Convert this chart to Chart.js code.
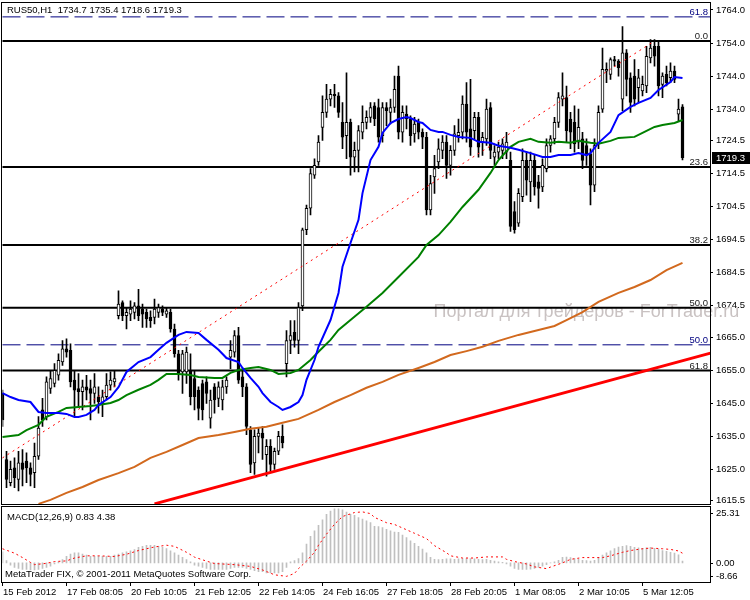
<!DOCTYPE html>
<html>
<head>
<meta charset="utf-8">
<script src="https://cdn.jsdelivr.net/npm/chart.js@4.4.0/dist/chart.umd.min.js"></script>
<style>
  html, body { margin: 0; padding: 0; background: #fff; }
  #wrap { position: relative; width: 750px; height: 600px; }
  #main { position: absolute; left: 0; top: 0; }
  #macd { position: absolute; left: 0; top: 506px; }
</style>
</head>
<body>
<div id="wrap">
  <canvas id="main" width="750" height="506"></canvas>
  <canvas id="macd" width="750" height="94"></canvas>
</div>
<script>
const symbol = 'RUS50,H1'
const watermark = 'Портал для трейдеров - ForTrader.ru'
const copyright = 'MetaTrader FIX, © 2001-2011 MetaQuotes Software Corp.'

// H1 candles, [open, high, low, close]
const candles = [
  [1648, 1649, 1638, 1640], [1628, 1630.5, 1619.5, 1622], [1621, 1627.5, 1620, 1625], [1625.5, 1628.5, 1619.5, 1622.5],
  [1622, 1630.5, 1618.5, 1627], [1627, 1631, 1620, 1625], [1627.5, 1630, 1621, 1625.5], [1625.5, 1627, 1620, 1623.5],
  [1624, 1633, 1619.5, 1629], [1629, 1641, 1628, 1637.5], [1643, 1646.5, 1638, 1640], [1641, 1653, 1640, 1651.5],
  [1649.5, 1655, 1648, 1652.5], [1651, 1657, 1650, 1655], [1653.5, 1660, 1652, 1658], [1657.5, 1664, 1656.5, 1661.5],
  [1661.5, 1664.5, 1659, 1660.5], [1661, 1663, 1650, 1651.5], [1652, 1655, 1641, 1649], [1649.5, 1654, 1644, 1648.5],
  [1648.5, 1652, 1643, 1650], [1650, 1653.5, 1646, 1649], [1649.5, 1652, 1640, 1648], [1648, 1654, 1645, 1650],
  [1647, 1650, 1642, 1645.5], [1645, 1649, 1641, 1647], [1647, 1654, 1646, 1650.5], [1650.5, 1654.5, 1649, 1652],
  [1651.5, 1655, 1650, 1652.5], [1671.5, 1679, 1670.5, 1675], [1675.5, 1676, 1670, 1671.5], [1671.5, 1674, 1667.5, 1672.5],
  [1672, 1676, 1670, 1673.5], [1672.5, 1675.5, 1670.5, 1674.5], [1674.5, 1679.5, 1670, 1671.5], [1673.5, 1675, 1668, 1672],
  [1672.5, 1673.5, 1668, 1670.5], [1671, 1673, 1668, 1670], [1671, 1676.5, 1669, 1673.5], [1672.5, 1675, 1671, 1674],
  [1673.5, 1674.5, 1671.5, 1672.5], [1672, 1674, 1671, 1673], [1672.5, 1673.5, 1666.5, 1667.5], [1667.5, 1669, 1659, 1660],
  [1660, 1661, 1652, 1654], [1654.5, 1661, 1648, 1660], [1654.5, 1662, 1651, 1660.5], [1655, 1660, 1644.5, 1647],
  [1652.5, 1655, 1643, 1647], [1649, 1650, 1640, 1643.5], [1651, 1652, 1640, 1643], [1651.5, 1653, 1645, 1648],
  [1640.5, 1649, 1637.5, 1646], [1650, 1651, 1642, 1646], [1646.5, 1651.5, 1644, 1650], [1646, 1652, 1643, 1650],
  [1650, 1653, 1648, 1652], [1659, 1664, 1655.5, 1661], [1660.5, 1667, 1659, 1665.5], [1665.5, 1668, 1651, 1652],
  [1653, 1655, 1647, 1650], [1650, 1651, 1635.5, 1638], [1637, 1638, 1624, 1626.5], [1627, 1637, 1623.5, 1635],
  [1635, 1637.5, 1630, 1636], [1636, 1638, 1628, 1634.5], [1629.5, 1634, 1623, 1632], [1632, 1634, 1624.5, 1626.5],
  [1626.5, 1631.5, 1625, 1630.5], [1630.5, 1636.5, 1629.5, 1635], [1635, 1638.5, 1631.5, 1633], [1657, 1667, 1653, 1664],
  [1664, 1670, 1660, 1665.5], [1666.5, 1670, 1662, 1664], [1664, 1675.5, 1660, 1674], [1674.5, 1698, 1673, 1697.5],
  [1697.5, 1705, 1696, 1704], [1704, 1716, 1702, 1714.5], [1714, 1719, 1713, 1717], [1718, 1726, 1717, 1724],
  [1728.5, 1738, 1724.5, 1733], [1733, 1741.5, 1731.5, 1737], [1737, 1740, 1735, 1738.5], [1738.5, 1741.5, 1734.5, 1738],
  [1738, 1739, 1731.5, 1733], [1730, 1736, 1722, 1725.5], [1726, 1745, 1719, 1730], [1730, 1731, 1714, 1719.5],
  [1719.5, 1724, 1715, 1721.5], [1721.5, 1729, 1715, 1727.5], [1727, 1735, 1725, 1730], [1730, 1733.5, 1728, 1731.5],
  [1731.5, 1736, 1730, 1734.5], [1735, 1736, 1729, 1731], [1734.5, 1737, 1724, 1725.5], [1726, 1736, 1724, 1734.5],
  [1734.5, 1736, 1729, 1733.5], [1733, 1737, 1729.5, 1734.5], [1734.5, 1744, 1733, 1740], [1744, 1747, 1725, 1727],
  [1727, 1735, 1724, 1733], [1732.5, 1735, 1728, 1731], [1731, 1732, 1723, 1726], [1726.5, 1731.5, 1724, 1729.5],
  [1730, 1731, 1725, 1727], [1727, 1728, 1722, 1725.5], [1725.5, 1727, 1702, 1703.5], [1703.5, 1714, 1702, 1711.5],
  [1713.5, 1720, 1708.5, 1716], [1718, 1725, 1716, 1722], [1721.5, 1726, 1719, 1724], [1724, 1726, 1713, 1717],
  [1717, 1723, 1714, 1721.5], [1721.5, 1729, 1720, 1726.5], [1726, 1731, 1724, 1727], [1727, 1738, 1725, 1735.5],
  [1735.5, 1742, 1724, 1727], [1728, 1743, 1720, 1722.5], [1727.5, 1733, 1725, 1731.5], [1731.5, 1733, 1719.5, 1722.5],
  [1724, 1727, 1720, 1725.5], [1725, 1737, 1723, 1734], [1734.5, 1736, 1719, 1721.5], [1719.5, 1723, 1717, 1721],
  [1721, 1724, 1719, 1722.5], [1721.5, 1725, 1719, 1723.5], [1721, 1727, 1719, 1724], [1718.5, 1721, 1697, 1698.5],
  [1703, 1706, 1696.5, 1697.5], [1699.5, 1710, 1698.5, 1708.5], [1707.5, 1722, 1706, 1718.5], [1718.5, 1721, 1708, 1712.5],
  [1712, 1721, 1706, 1718.5], [1718.5, 1720, 1708, 1710.5], [1712, 1714, 1704, 1710], [1710.5, 1719, 1709, 1717],
  [1716, 1725, 1715, 1723], [1723, 1726, 1721, 1725], [1725, 1731.5, 1723.5, 1730], [1730, 1739, 1728.5, 1737.5],
  [1737, 1745, 1735, 1738], [1737.5, 1741, 1724, 1727.5], [1731, 1733, 1722, 1727], [1730, 1735, 1721, 1723.5],
  [1724, 1734, 1722, 1728.5], [1725, 1727, 1716, 1718.5], [1723, 1725, 1717, 1720], [1720.5, 1722, 1705, 1711],
  [1711, 1725, 1709, 1723], [1723.5, 1735, 1722, 1733], [1734, 1752.5, 1733, 1746], [1745.5, 1748, 1742, 1746],
  [1744.5, 1749.5, 1743, 1749], [1749, 1750, 1747, 1748.5], [1748.5, 1749, 1744, 1746.5], [1737, 1759, 1733.5, 1751],
  [1751, 1752, 1738, 1743], [1743.5, 1745, 1733, 1736], [1744, 1749, 1735, 1737], [1740.5, 1746, 1736, 1743.5],
  [1739.5, 1744, 1738, 1741.5], [1741, 1753, 1739, 1750], [1749.5, 1755, 1748, 1752.5], [1753, 1755, 1747, 1750],
  [1753, 1754.5, 1738, 1741], [1741.5, 1745, 1737.5, 1744], [1744.5, 1747, 1741, 1742], [1743.5, 1748, 1742, 1745.5],
  [1745.5, 1747, 1742, 1743], [1732.5, 1737, 1730.5, 1734], [1734.7, 1735.4, 1718.6, 1719.3]
]

// moving averages, [bar index, price]
const blueMA = [[0,1648.1],[2,1646.9],[4,1646.0],[7,1645.4],[9,1642.4],[11,1642.1],[14,1642.1],[16,1641.8],[18,1640.9],[19,1640.9],
  [21,1641.5],[23,1643.0],[24,1644.5],[27,1646.9],[29,1649.9],[31,1654.5],[34,1657.5],[37,1659.0],[39,1661.2],[41,1663.3],
  [44,1665.7],[46,1666.6],[49,1666.3],[51,1664.2],[54,1661.2],[56,1658.7],[59,1657.5],[60,1655.7],[62,1652.7],[64,1650.0],
  [65,1648.1],[67,1645.4],[69,1643.9],[70,1643.0],[72,1643.9],[74,1645.4],[75,1647.5],[76,1652.1],[78,1658.1],[79,1662.1],
  [82,1670.2],[84,1678.4],[85,1686.3],[87,1693.5],[89,1700.5],[90,1708.6],[92,1718.6],[94,1722.6],[95,1726.8],[97,1729.8],
  [99,1731.0],[101,1731.6],[102,1731.3],[104,1730.1],[105,1729.8],[107,1727.7],[109,1727.1],[110,1727.1],[112,1726.2],[114,1725.6],
  [117,1725.3],[119,1724.1],[122,1723.8],[124,1722.9],[127,1722.3],[129,1721.7],[132,1720.7],[135,1719.5],[137,1719.5],[139,1720.1],
  [142,1720.1],[144,1720.7],[146,1720.1],[147,1720.7],[149,1723.8],[152,1727.1],[154,1732.2],[157,1734.7],[159,1735.9],[162,1737.4],
  [164,1739.8],[167,1742.2],[168,1743.7],[170,1743.4]]
const greenMA = [[0,1634.8],[4,1635.4],[6,1636.9],[9,1638.5],[11,1640.9],[14,1642.4],[16,1643.6],[19,1643.9],[22,1644.2],[24,1644.5],
  [27,1645.1],[29,1646.0],[31,1647.5],[34,1649.1],[37,1650.6],[39,1652.1],[41,1653.9],[44,1653.9],[47,1653.6],[49,1653.0],
  [53,1652.7],[55,1652.7],[57,1654.2],[59,1655.1],[62,1655.7],[64,1656.0],[67,1655.1],[69,1653.9],[72,1654.2],[74,1655.1],
  [77,1658.1],[79,1660.6],[82,1664.2],[84,1667.2],[87,1670.2],[91,1674.2],[95,1678.4],[99,1683.2],[104,1689.3],[106,1692.9],
  [109,1695.9],[112,1699.9],[115,1704.4],[119,1709.6],[122,1714.7],[124,1718.6],[127,1722.6],[129,1724.1],[132,1725.0],[134,1724.1],
  [137,1723.8],[139,1724.1],[142,1723.8],[144,1724.4],[147,1723.8],[149,1723.5],[152,1724.4],[154,1725.3],[158,1725.6],[160,1726.8],
  [163,1728.6],[165,1729.2],[168,1729.8],[170,1730.7]]
const orangeMA = [[9,1614.6],[12,1615.8],[16,1617.9],[20,1619.7],[24,1621.8],[29,1623.9],[33,1625.8],[37,1628.5],[41,1630.3],[45,1632.4],
  [49,1634.5],[54,1635.4],[58,1636.3],[62,1637.3],[66,1637.9],[70,1639.1],[74,1640.3],[79,1643.0],[83,1645.4],[87,1647.5],
  [91,1649.7],[95,1651.5],[99,1653.6],[104,1655.7],[108,1657.5],[112,1659.6],[116,1660.8],[120,1662.1],[124,1663.9],[129,1665.7],
  [134,1667.2],[138,1668.4],[141,1670.2],[145,1672.6],[149,1675.7],[154,1678.4],[158,1680.2],[162,1682.3],[166,1685.3],[170,1687.5]]

// drawn objects
const trendLine = [[38,1614.6],[177,1660.2]]
const fibTrend = [[0,1628.5],[163,1754.6]]
const fibNames = ['61.8', '0.0', '23.6', '38.2', '50.0', '50.0', '61.8']
const fibValues = [1761.9, 1754.6, 1716.5, 1692.9, 1673.9, 1662.7, 1654.9]

// MACD(12,26,9)
const macdHist = [5, 1, -1, -2, -2.5, -3, -3, -3.2, -3.2, -3, -2.5, -2, -1.5, -0.5, 0.5,
  1.5, 3, 4, 4.5, 4.5, 4, 3.5, 3, 3, 3, 3, 3, 3, 3.5, 4, 4.5,
  5, 5.5, 6, 7, 7.5, 8, 8, 8, 7.5, 7, 6.5, 5.5, 4.5, 3.5, 2.5, 1.5, 0.5,
  -1, -1.5, -2, -2.5, -3, -3, -3, -3, -3, -2.5, -2, -2, -2, -2.5, -3, -3.5, -4, -4, -4.5, -4.5, -4.5, -4.5,
  -4, -2, 0.5, 1, 2,
  4.6, 8.5, 12, 14.5, 17, 19.5, 22, 23.5, 24.5, 24.5, 24, 23, 22, 21.5, 20.5, 19.8, 19, 18.2,
  16.6, 16.4, 16, 15.2, 14.5, 14, 13.8, 12.6, 11.5, 10, 8.8, 7.5, 6.2, 4.6, 2.5, 1.6,
  1.5, 1.6, 1.8, 1.8, 1.6, 1.8, 2, 2, 2, 1.8, 1.6, 1.5, 1.6, 1.2, 0.8, 0.5, 0.2,
  -0.5, -1.5, -2.5, -3, -3, -3, -2.8, -2.5, -2, -1.5, -0.8, 0, 0.5, 1.2,
  2.5, 2.6, 2.4, 2, 1.6, 1.2, 1, 0.8, 1.2, 2.4, 3.5, 4.6, 5.5, 6.5, 7.2, 7.5,
  7.8, 7.5, 7, 6.8, 6.6, 6.8, 7, 6.6, 6.2, 5.6, 5.2, 4.8, 4.4, 3.6, 0.83]
const macdSignal = [[0,6.4],[3,4.4],[5,2.4],[7,0.2],[8,-0.8],[11,-0.2],[13,0.6],[16,0.9],[18,2.2],[21,3.2],[24,3.2],[28,2.9],
  [31,3.9],[34,5.6],[38,7.2],[41,8.0],[43,7.5],[46,4.8],[48,2.6],[51,0.8],[53,-0.3],[58,-0.8],[62,-1.6],[65,-3.2],[68,-5.4],
  [71,-6.1],[73,-4.8],[74,-2.6],[76,0.8],[78,4.8],[79,8],[81,13],[83,17.5],[85,21],[88,22.8],[90,23.1],[92,22.3],[93,20.6],
  [96,18.2],[98,17.4],[100,15.8],[103,13.4],[106,11],[108,7.8],[111,4.6],[112,3.2],[115,2.2],[118,2.2],[121,2.7],[125,2.7],
  [126,1.6],[128,0.6],[131,-0.5],[133,-1.8],[136,-2.6],[137,-1.9],[140,0],[142,1.6],[145,2.4],[150,2.4],[152,3.2],[155,4.8],
  [157,5.6],[160,6.4],[162,6.7],[165,6.4],[167,6.1],[169,5.4],[170,4.38]]
const macdTicks = [25.31, 0, -8.66]

const priceTicks = [1764.0, 1754.0, 1744.0, 1734.0, 1724.5, 1714.5, 1704.5, 1694.5, 1684.5, 1674.5, 1665.0, 1655.0, 1645.0, 1635.0, 1625.0, 1615.5]
const timeIndex = [0, 16, 32, 48, 64, 80, 96, 112, 128, 144, 160]
const timeLabels = ['15 Feb 2012', '17 Feb 08:05', '20 Feb 10:05', '21 Feb 12:05', '22 Feb 14:05', '24 Feb 16:05',
  '27 Feb 18:05', '28 Feb 20:05', '1 Mar 08:05', '2 Mar 10:05', '5 Mar 12:05']

// 171 bars plus the empty shift on the right
const slots = Array.from({ length: 178 }, (_, i) => String(i))

function sparse(points) {
    const arr = new Array(slots.length).fill(null)
    points.forEach(([i, v]) => { arr[i] = v })
    return arr
}

const FONT = "'Liberation Sans', Arial, sans-serif"
Chart.defaults.font.family = FONT
Chart.defaults.font.size = 9.5
Chart.defaults.color = '#000'

const last = candles[candles.length - 1]

function fixAxis(width) {
    return function (s) {
        s.width = width
        s.paddingTop = 0
        s.paddingBottom = 0
    }
}

function lineSet(points, color, width, order, dash) {
    return {
        type: 'line', data: sparse(points), borderColor: color, borderWidth: width,
        borderDash: dash || [], pointRadius: 0, spanGaps: true, tension: 0, order: order
    }
}

// half pixel shift keeps 1px wicks and 3px bodies crisp
const crisp = {
    id: 'crisp',
    beforeDatasetsDraw(chart) { chart.ctx.save(); chart.ctx.translate(0.5, 0) },
    afterDatasetsDraw(chart) { chart.ctx.restore() }
}

const mainDecor = {
    id: 'mainDecor',
    beforeDatasetsDraw(chart) {
        const ctx = chart.ctx
        ctx.save()
        ctx.font = '18px ' + FONT
        ctx.fillStyle = '#c9c2c2'
        ctx.textBaseline = 'alphabetic'
        ctx.fillText(watermark, 433, 317)
        ctx.restore()
    },
    afterDraw(chart) {
        const { ctx, chartArea: a, scales: { y } } = chart
        ctx.save()
        ctx.strokeStyle = '#000'
        ctx.lineWidth = 1
        ctx.strokeRect(a.left - 0.5, a.top - 0.5, a.right - a.left + 1, a.bottom - a.top + 1)

        ctx.font = '9.5px ' + FONT
        ctx.textBaseline = 'alphabetic'
        ctx.textAlign = 'right'
        fibNames.forEach((name, i) => {
            ctx.fillStyle = (i === 0 || i === 5) ? '#000080' : '#202020'
            ctx.fillText(name, a.right - 2, y.getPixelForValue(fibValues[i]) - 2)
        })

        ctx.textAlign = 'left'
        ctx.textBaseline = 'middle'
        ctx.fillStyle = '#000'
        ctx.fillText(symbol + '  ' + last.map(v => v.toFixed(1)).join(' '), 7, 10)

        const py = Math.round(y.getPixelForValue(last[3]))
        ctx.fillStyle = '#000'
        ctx.fillRect(a.right + 2, py - 6, 750 - a.right - 2, 12)
        ctx.fillStyle = '#fff'
        ctx.fillText(last[3].toFixed(1), a.right + 6, py)
        ctx.restore()
    }
}

const fibSets = fibValues.map((v, i) => {
    const navy = (i === 0 || i === 5)
    return lineSet([[0, v], [slots.length - 1, v]], navy ? '#000080' : '#000', navy ? 1 : 2, 10, navy ? [18, 6] : [])
})

new Chart(document.getElementById('main'), {
    data: {
        labels: slots,
        datasets: [
            ...fibSets,
            {
                type: 'bar', data: candles.map(c => [c[2], c[1]]), backgroundColor: '#000',
                barThickness: 1, grouped: false, order: 7
            },
            {
                type: 'bar', data: candles.map(c => [c[0], c[3]]),
                backgroundColor: candles.map(c => c[3] >= c[0] ? '#fff' : '#000'),
                borderColor: '#000', borderWidth: 1, borderSkipped: false,
                barThickness: 3, grouped: false, order: 6
            },
            lineSet(trendLine, '#ff0000', 3, 4),
            lineSet(fibTrend, '#ff0000', 1, 4, [2, 4]),
            lineSet(orangeMA, '#d2691e', 2, 3),
            lineSet(greenMA, '#008000', 2, 2),
            lineSet(blueMA, '#0000ff', 2, 1)
        ]
    },
    options: {
        responsive: false,
        animation: false,
        events: [],
        layout: { padding: { left: 2, top: 3, right: 0, bottom: 2 } },
        plugins: { legend: { display: false }, tooltip: { enabled: false } },
        scales: {
            x: { type: 'category', offset: false, display: false },
            y: {
                type: 'linear', position: 'right', min: 1614.55, max: 1766.1,
                afterBuildTicks: s => { s.ticks = priceTicks.map(v => ({ value: v })) },
                afterFit: fixAxis(40),
                ticks: { padding: 3, callback: v => v.toFixed(1), font: { size: 9.5 } },
                grid: { drawOnChartArea: false, tickLength: 3, color: '#000' },
                border: { color: '#000' }
            }
        }
    },
    plugins: [crisp, mainDecor]
})

const macdDecor = {
    id: 'macdDecor',
    afterDraw(chart) {
        const { ctx, chartArea: a, scales: { y } } = chart
        ctx.save()
        ctx.strokeStyle = '#000'
        ctx.lineWidth = 1
        ctx.strokeRect(a.left - 0.5, a.top - 0.5, a.right - a.left + 1, a.bottom - a.top + 1)

        ctx.font = '9.5px ' + FONT
        ctx.fillStyle = '#000'
        ctx.textBaseline = 'middle'
        ctx.textAlign = 'left'
        const hNow = macdHist[macdHist.length - 1].toFixed(2)
        const sNow = macdSignal[macdSignal.length - 1][1].toFixed(2)
        ctx.fillText('MACD(12,26,9) ' + hNow + ' ' + sNow, 7, a.top + 10)
        ctx.fillText(copyright, 5, a.bottom - 8)

        macdTicks.forEach((v, i) => {
            let py = y.getPixelForValue(v)
            if (i === 0) py += 6
            if (i === macdTicks.length - 1) py -= 6
            py = Math.round(py) + 0.5
            ctx.beginPath()
            ctx.moveTo(a.right, py)
            ctx.lineTo(a.right + 3, py)
            ctx.stroke()
            ctx.fillText(v.toFixed(2), a.right + 6, py)
        })
        ctx.restore()
    }
}

new Chart(document.getElementById('macd'), {
    data: {
        labels: slots,
        datasets: [
            {
                type: 'bar', data: macdHist, backgroundColor: '#c0c0c0',
                barThickness: 1, grouped: false, order: 2
            },
            lineSet(macdSignal, '#ff0000', 1, 1, [2, 3])
        ]
    },
    options: {
        responsive: false,
        animation: false,
        events: [],
        layout: { padding: { left: 2, top: 1, right: 0, bottom: 0 } },
        plugins: { legend: { display: false }, tooltip: { enabled: false } },
        scales: {
            x: {
                type: 'category', offset: false, position: 'bottom',
                afterBuildTicks: s => { s.ticks = timeIndex.map(i => ({ value: i })) },
                afterFit: s => { s.height = 18; s.paddingLeft = 0; s.paddingRight = 0 },
                ticks: {
                    autoSkip: false, maxRotation: 0, minRotation: 0, align: 'start', padding: 1, labelOffset: 1,
                    callback: v => timeLabels[timeIndex.indexOf(v)], font: { size: 9.5 }
                },
                grid: { drawOnChartArea: false, offset: false, tickLength: 4, color: '#000' },
                border: { display: false }
            },
            y: {
                type: 'linear', position: 'right', min: -8.66, max: 25.31,
                afterFit: fixAxis(40),
                ticks: { display: false },
                grid: { display: false },
                border: { display: false }
            }
        }
    },
    plugins: [crisp, macdDecor]
})
</script>
</body>
</html>
